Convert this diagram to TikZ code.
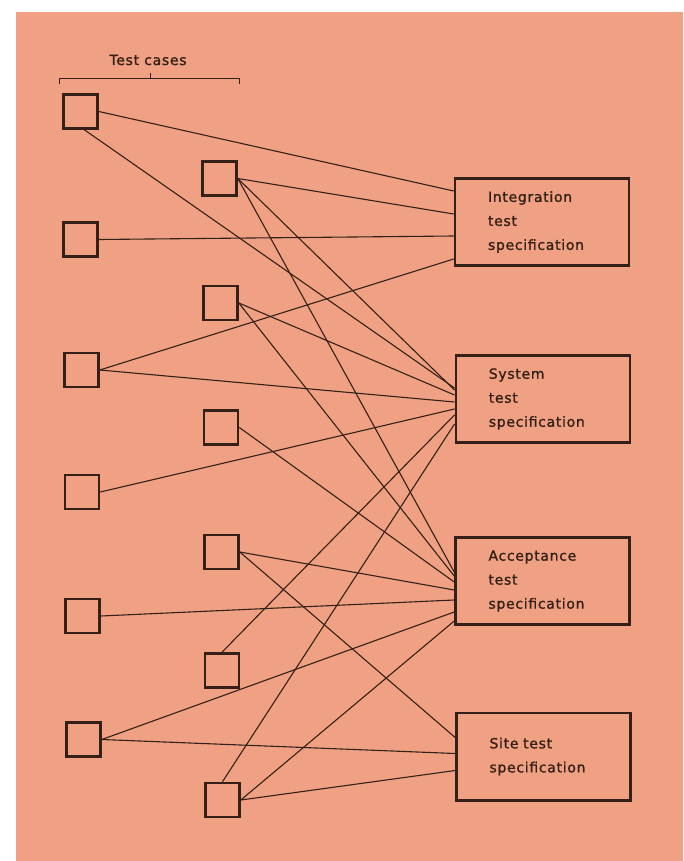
\documentclass[tikz,border=0pt]{standalone}
\usepackage{fontspec}
\setmainfont{DejaVu Sans}[LetterSpace=5.0, FakeBold=1.2]
\usetikzlibrary{calc}
\definecolor{bgpink}{RGB}{240,161,131}
\definecolor{ink}{RGB}{52,32,22}
\begin{document}
\begin{tikzpicture}[x=1pt,y=-1pt,
  tcbox/.style={draw=ink, line width=2.6pt, minimum width=34pt, minimum height=34pt, inner sep=0pt},
  specbox/.style={draw=ink, line width=2.6pt, minimum width=174pt, minimum height=87.4pt,
    text width=108pt, align=left, inner sep=0pt, font=\fontsize{14}{24}\selectfont, text=ink},
  conn/.style={draw=ink, line width=1.1pt},
  lbl/.style={font=\fontsize{14}{17}\selectfont, text=ink}]
\useasboundingbox (0,0) rectangle (683,861);
\fill[white] (0,0) rectangle (683,861);
\fill[bgpink] (16,12) rectangle (683,861);

% heading
\node[lbl, anchor=base] (tcl) at (148,65) {Test cases};
\draw[ink, line width=1pt] (59,84) -- (59,79) -- (239,79) -- (239,84) (150,79) -- (150,73);

% left column of test cases
\node[tcbox] (L1) at (80.5,111.5) {};
\node[tcbox] (L2) at (80.7,239.5) {};
\node[tcbox] (L3) at (81.5,370) {};
\node[tcbox] (L4) at (82,492) {};
\node[tcbox] (L5) at (82.6,616) {};
\node[tcbox] (L6) at (83.5,739.5) {};

% middle column of test cases
\node[tcbox] (M1) at (219.5,178.5) {};
\node[tcbox] (M2) at (220.5,303) {};
\node[tcbox] (M3) at (221,427.5) {};
\node[tcbox] (M4) at (221.5,552) {};
\node[tcbox] (M5) at (222,670.5) {};
\node[tcbox] (M6) at (222.5,800) {};

% specifications
\node[specbox] (R1) at (542,222) {Integration\\test\\specification};
\node[specbox] (R2) at (542.8,399) {System\\test\\specification};
\node[specbox] (R3) at (542.5,581) {Acceptance\\test\\specification};
\node[specbox] (R4) at (543.5,756.5) {Site test\\specification};

% connectors
\draw[conn] (L1.east) -- ($(R1.north west)+(0,14)$);
\draw[conn] (L1.-78) -- ($(R2.north west)+(0,34)$);
\draw[conn] (L2.east) -- ($(R1.north west)+(0,59)$);
\draw[conn] (L3.east) -- ($(R1.north west)+(0,82)$);
\draw[conn] (L3.east) -- ($(R2.north west)+(0,48)$);
\draw[conn] (L4.east) -- ($(R2.north west)+(0,55)$);
\draw[conn] (L5.east) -- ($(R3.north west)+(0,64)$);
\draw[conn] (L6.east) -- ($(R3.north west)+(0,76)$);
\draw[conn] (L6.east) -- ($(R4.north west)+(0,42)$);
\draw[conn] (M1.east) -- ($(R1.north west)+(0,37)$);
\draw[conn] (M1.east) -- ($(R2.north west)+(0,36)$);
\draw[conn] (M1.east) -- ($(R3.north west)+(0,36)$);
\draw[conn] (M2.east) -- ($(R2.north west)+(0,41)$);
\draw[conn] (M2.east) -- ($(R3.north west)+(0,40)$);
\draw[conn] (M3.east) -- ($(R3.north west)+(0,46)$);
\draw[conn] (M4.east) -- ($(R3.north west)+(0,54)$);
\draw[conn] (M4.east) -- ($(R4.north west)+(0,26)$);
\draw[conn] (M5.north) -- ($(R2.north west)+(0,61)$);
\draw[conn] (M6.north) -- ($(R2.north west)+(0,70)$);
\draw[conn] (M6.east) -- ($(R3.north west)+(0,85)$);
\draw[conn] (M6.east) -- ($(R4.north west)+(0,59)$);
\end{tikzpicture}
\end{document}
